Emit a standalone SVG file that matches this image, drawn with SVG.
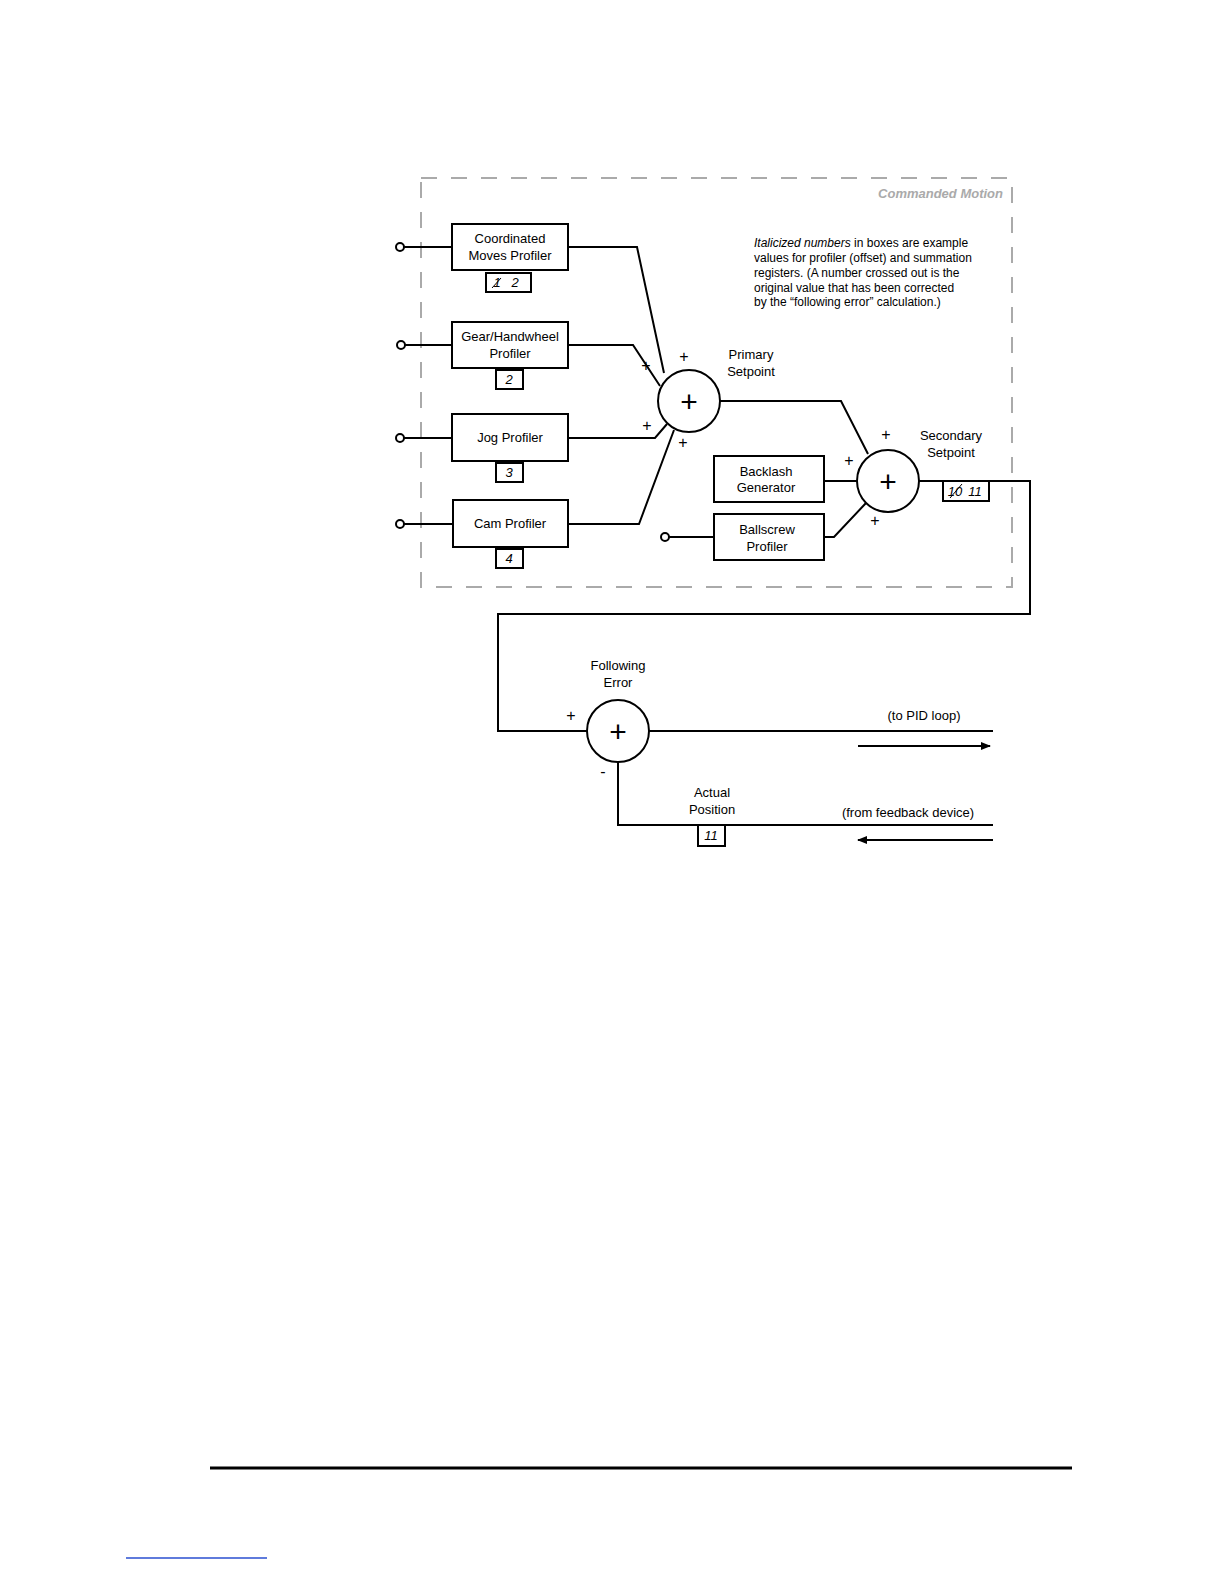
<svg xmlns="http://www.w3.org/2000/svg" width="1224" height="1584" viewBox="0 0 1224 1584">
<style>
text{font-family:"Liberation Sans",Arial,sans-serif;font-size:13px;fill:#000}
.c{text-anchor:middle}
.i{font-style:italic}
.b{fill:#fff;stroke:#000;stroke-width:2}
.w{fill:none;stroke:#000;stroke-width:2}
.p{font-size:16px;text-anchor:middle}
.big{font-size:30px;text-anchor:middle}
</style>
<defs><marker id="ah" markerWidth="10" markerHeight="8" refX="9" refY="4" orient="auto" markerUnits="userSpaceOnUse"><path d="M0,0L10,4L0,8z" fill="#000"/></marker></defs>
<rect x="421" y="178" width="591" height="409" fill="none" stroke="#aaa" stroke-width="2" stroke-dasharray="16,14"/>
<text x="1003" y="198" text-anchor="end" style="font-weight:bold;font-style:italic;fill:#aaa;font-size:13px">Commanded Motion</text>
<g id="connectors" class="w">
<path class="w" d="M404,247H452M568,247H637L664,373"/>
<path class="w" d="M404,345H452M568,345H633L660,386"/>
<path class="w" d="M404,438H452M568,438H655L667,424"/>
<path class="w" d="M404,524H453M568,524H639L674,430"/>
<path class="w" d="M720,401H841L868,454"/>
<path class="w" d="M824,481H857"/>
<path class="w" d="M669,537H714M824,537H834L866,503"/>
<path class="w" d="M919,481H1030V614H498V731H587"/>
<path class="w" d="M649,731H993"/>
<path class="w" d="M618,762V825H993"/>
<path class="w" d="M858,746H990" marker-end="url(#ah)"/>
<path class="w" d="M993,840H858" marker-end="url(#ah)"/>
</g>
<g id="in1"><circle cx="400" cy="247" r="4" class="b"/></g>
<g id="in2"><circle cx="401" cy="345" r="4" class="b"/></g>
<g id="in3"><circle cx="400" cy="438" r="4" class="b"/></g>
<g id="in4"><circle cx="400" cy="524" r="4" class="b"/></g>
<g id="in5"><circle cx="665" cy="537" r="4" class="b"/></g>
<g id="cmp"><rect x="452" y="224" width="116" height="46" class="b"/><text x="510" y="243" class="c">Coordinated</text><text x="510" y="260" class="c">Moves Profiler</text>
<rect x="486" y="273" width="45" height="19" class="b"/><text x="497" y="287" class="c i">1</text><line x1="492" y1="288" x2="501" y2="278" stroke="#000"/><text x="515" y="287" class="c i">2</text></g>
<g id="gear"><rect x="452" y="322" width="116" height="46" class="b"/><text x="510" y="341" class="c">Gear/Handwheel</text><text x="510" y="358" class="c">Profiler</text>
<rect x="496" y="370" width="27" height="19" class="b"/><text x="509" y="384" class="c i">2</text></g>
<g id="jog"><rect x="452" y="414" width="116" height="47" class="b"/><text x="510" y="442" class="c">Jog Profiler</text>
<rect x="496" y="463" width="27" height="19" class="b"/><text x="509" y="477" class="c i">3</text></g>
<g id="cam"><rect x="453" y="500" width="115" height="47" class="b"/><text x="510" y="528" class="c">Cam Profiler</text>
<rect x="496" y="549" width="27" height="19" class="b"/><text x="509" y="563" class="c i">4</text></g>
<g id="sum1"><circle cx="689" cy="401" r="31" class="b"/><text x="689" y="412" class="big">+</text>
<text x="684" y="362" class="p">+</text><text x="646" y="371" class="p">+</text><text x="647" y="431" class="p">+</text><text x="683" y="448" class="p">+</text>
<text x="751" y="359" class="c">Primary</text><text x="751" y="376" class="c">Setpoint</text></g>
<g id="backlash"><rect x="714" y="456" width="110" height="46" class="b"/><text x="766" y="476" class="c">Backlash</text><text x="766" y="492" class="c">Generator</text></g>
<g id="ballscrew"><rect x="714" y="514" width="110" height="46" class="b"/><text x="767" y="534" class="c">Ballscrew</text><text x="767" y="551" class="c">Profiler</text></g>
<g id="sum2"><circle cx="888" cy="481" r="31" class="b"/><text x="888" y="492" class="big">+</text>
<text x="886" y="440" class="p">+</text><text x="849" y="466" class="p">+</text><text x="875" y="526" class="p">+</text>
<text x="951" y="440" class="c">Secondary</text><text x="951" y="457" class="c">Setpoint</text>
<rect x="943" y="481" width="46" height="20" class="b"/><text x="955" y="496" class="c i">10</text><line x1="950" y1="498" x2="962" y2="484" stroke="#000"/><text x="975" y="496" class="c i">11</text></g>
<g id="note"><text x="754" y="247" style="font-size:12px"><tspan font-style="italic">Italicized numbers</tspan> in boxes are example</text>
<text x="754" y="262" style="font-size:12px">values for profiler (offset) and summation</text>
<text x="754" y="277" style="font-size:12px">registers. (A number crossed out is the</text>
<text x="754" y="292" style="font-size:12px">original value that has been corrected</text>
<text x="754" y="306" style="font-size:12px">by the “following error” calculation.)</text></g>
<g id="sum3"><circle cx="618" cy="731" r="31" class="b"/><text x="618" y="742" class="big">+</text>
<text x="571" y="721" class="p">+</text><text x="603" y="777" class="p">-</text>
<text x="618" y="670" class="c">Following</text><text x="618" y="687" class="c">Error</text></g>
<g id="actual"><text x="712" y="797" class="c">Actual</text><text x="712" y="814" class="c">Position</text>
<rect x="698" y="825" width="27" height="21" class="b"/><text x="711" y="840" class="c i">11</text></g>
<text x="924" y="720" class="c">(to PID loop)</text>
<text x="908" y="817" class="c">(from feedback device)</text>
<line x1="210" y1="1468" x2="1072" y2="1468" stroke="#000" stroke-width="3"/>
<line x1="126" y1="1558" x2="267" y2="1558" stroke="#2a4fd0" stroke-width="1.5"/>
</svg>
